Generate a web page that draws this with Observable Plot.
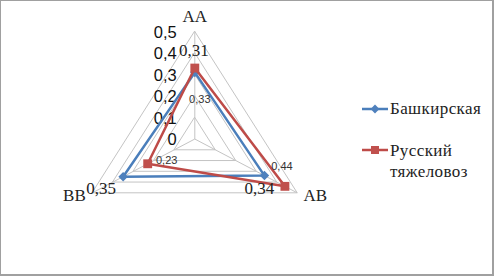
<!DOCTYPE html>
<html><head><meta charset="utf-8">
<script src="https://cdn.jsdelivr.net/npm/d3@7"></script>
<script src="https://cdn.jsdelivr.net/npm/@observablehq/plot@0.6"></script>
<style>
body{margin:0;background:#fff;}
#wrap{position:relative;width:496px;height:278px;overflow:hidden;}
#border{position:absolute;left:0;top:0;width:491px;height:273px;border-top:1.5px solid #a0a0a0;border-left:1.5px solid #a0a0a0;border-right:2.5px solid #a0a0a0;border-bottom:2.5px solid #a0a0a0;pointer-events:none;box-sizing:content-box;}
.leg{position:absolute;font-family:"Liberation Serif","Times New Roman","DejaVu Serif",serif;font-size:17px;letter-spacing:0.4px;color:#222;line-height:21px;white-space:nowrap;}
.sw{position:absolute;}
svg text.serif{font-family:"Liberation Serif","Times New Roman","DejaVu Serif",serif;letter-spacing:0.5px;}
</style></head>
<body><div id="wrap"></div>
<script>
const categories = ["AA", "AB", "BB"];
const seriesNames = ["Башкирская", "Русский тяжеловоз"];
const bashkir = [0.31, 0.34, 0.35];
const russian = [0.33, 0.44, 0.23];
const ticks = [0, 0.1, 0.2, 0.3, 0.4, 0.5];
const tickLabels = ["0", "0,1", "0,2", "0,3", "0,4", "0,5"];
const bashkirLabels = ["0,31", "0,34", "0,35"];
const russianLabels = ["0,33", "0,44", "0,23"];

const colors = ["#4a7ebb", "#be4b48"];
const fills = ["#4f81bd", "#c0504d"];
const maxV = 0.5;
const SERIF = "'Liberation Serif', 'Times New Roman', 'DejaVu Serif', serif";
const SANS = "'Liberation Sans', Arial, sans-serif";

function pos(i, r) {
  const a = i * 2 * Math.PI / categories.length;
  return {x: r * Math.sin(a), y: r * Math.cos(a)};
}

const seriesData = [bashkir, russian].map((vals, s) =>
  vals.map((v, i) => ({series: seriesNames[s], cat: categories[i], v, label: [bashkirLabels, russianLabels][s][i], ...pos(i, v)}))
);

const grid = [];
ticks.filter(t => t > 0).forEach(t => categories.forEach((c, i) => grid.push({level: t, ...pos(i, t)})));
const spokes = categories.map((c, i) => ({cat: c, ...pos(i, maxV)}));
const tickData = ticks.map((t, k) => ({t, label: tickLabels[k]}));

const catOffsets = {AA: [0, -15], AB: [18, 3], BB: [-18, 3]};
const labelOffsets = [
  {AA: [-1, -22], AB: [-5, 13], BB: [-22, 12]},
  {AA: [5, 31], AB: [-3, -20], BB: [19, -3]}
];

const half = maxV * Math.sin(Math.PI / 3);
const cx = 194.3, hw = 102.4;

const marks = [
  Plot.line(grid, {x: "x", y: "y", z: "level", curve: "linear-closed", stroke: "#c4c4c4", strokeWidth: 1}),
  Plot.link(spokes, {x1: 0, y1: 0, x2: "x", y2: "y", stroke: "#c4c4c4", strokeWidth: 1}),
  Plot.text(tickData, {x: 0, y: "t", text: "label", textAnchor: "end", dx: -18, dy: 1, fontSize: 16.5, fontFamily: SANS, fill: "#111"}),
];
categories.forEach((c, i) => {
  marks.push(Plot.text([spokes[i]], {x: "x", y: "y", text: "cat", dx: catOffsets[c][0], dy: catOffsets[c][1], fontSize: 17, fontFamily: SERIF, fill: "#222", className: "serif"}));
});
seriesData.forEach((d, s) => {
  marks.push(Plot.line(d, {x: "x", y: "y", curve: "linear-closed", stroke: colors[s], strokeWidth: 2.5}));
  marks.push(Plot.dot(d, {x: "x", y: "y", symbol: s === 0 ? "diamond2" : "square", r: s === 0 ? 4.3 : 5, fill: fills[s], stroke: "none"}));
});
seriesData.forEach((d, s) => {
  d.forEach(p => {
    const o = labelOffsets[s][p.cat];
    marks.push(Plot.text([p], {x: "x", y: "y", text: "label", dx: o[0], dy: o[1],
      fontSize: s === 0 ? 17 : 11,
      fontFamily: s === 0 ? SERIF : SANS,
      className: s === 0 ? "serif" : undefined,
      fill: s === 0 ? "#222" : "#333"}));
  });
});

const chart = Plot.plot({
  width: 496, height: 278, margin: 0,
  x: {domain: [-half, half], range: [cx - hw, cx + hw], axis: null},
  y: {domain: [-maxV / 2, maxV], range: [192.3, 31], axis: null},
  style: {background: "transparent", overflow: "visible"},
  marks
});
const wrap = document.getElementById("wrap");
wrap.appendChild(chart);

const border = document.createElement("div");
border.id = "border";
wrap.appendChild(border);

// legend
const legSvg = d3.create("svg").attr("class", "sw").attr("width", 40).attr("height", 70)
  .style("left", "358px").style("top", "95px");
legSvg.append("line").attr("x1", 4).attr("x2", 30).attr("y1", 14).attr("y2", 14).attr("stroke", colors[0]).attr("stroke-width", 2.5);
legSvg.append("path").attr("d", d3.symbol(d3.symbolDiamond2, 50)()).attr("transform", "translate(17,14)").attr("fill", fills[0]);
legSvg.append("line").attr("x1", 4).attr("x2", 30).attr("y1", 55).attr("y2", 55).attr("stroke", colors[1]).attr("stroke-width", 2.5);
legSvg.append("rect").attr("x", 13).attr("y", 51).attr("width", 8).attr("height", 8).attr("fill", fills[1]);
wrap.appendChild(legSvg.node());

const l1 = document.createElement("div");
l1.className = "leg"; l1.style.left = "390px"; l1.style.top = "98px";
l1.textContent = seriesNames[0];
wrap.appendChild(l1);
const l2 = document.createElement("div");
l2.className = "leg"; l2.style.left = "390px"; l2.style.top = "140px";
const parts = seriesNames[1].split(" ");
l2.innerHTML = parts[0] + "<br>" + parts[1];
wrap.appendChild(l2);
</script>
</body></html>
